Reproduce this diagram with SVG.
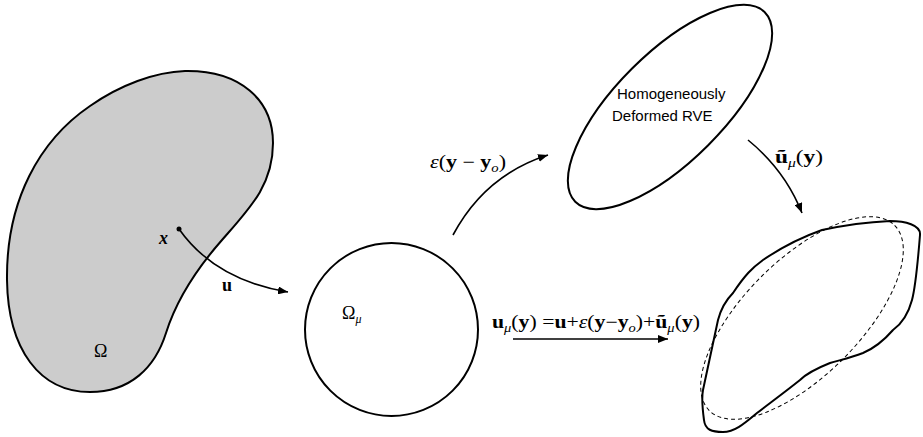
<svg xmlns="http://www.w3.org/2000/svg" width="923" height="437" viewBox="0 0 923 437">
<style>
.shape{fill:none;stroke:#000;stroke-width:2}
.conn{fill:none;stroke:#000;stroke-width:1.6}
.math{font-family:"Liberation Serif","DejaVu Serif",serif;font-size:18px;fill:#000}
.b{font-weight:bold}
.sub{font-size:12px}
.sans{font-family:"Liberation Sans",Arial,sans-serif;font-size:15px;fill:#000}
</style>
<defs>
<marker id="ah" viewBox="0 0 10 8" refX="10" refY="4" markerWidth="10" markerHeight="8" markerUnits="userSpaceOnUse" orient="auto">
<path d="M0,0 L10,4 L0,8 Z" fill="#000"/>
</marker>
</defs>
<g id="omega">
<path d="M185,71 C240,70 273,100 273,143 C273,185 250,208 222,240 C200,265 178,295 166,333 C155,368 130,392 90,392 C40,392 8,350 7,280 C6,200 40,140 90,106 C120,85 155,72 185,71 Z" fill="#cccccc" stroke="#000" stroke-width="2"/>
<text class="math" x="94" y="357">Ω</text>
<circle cx="179" cy="229" r="2.5" fill="#000"/>
<text class="math b" x="159" y="244" font-style="italic">x</text>
</g>
<g id="rve">
<circle class="shape" cx="391.5" cy="329.5" r="86.5"/>
<text class="math" x="342" y="319">Ω<tspan class="sub" dy="4" font-style="italic">μ</tspan></text>
</g>
<g id="homog">
<ellipse class="shape" cx="670" cy="107" rx="134" ry="54" transform="rotate(-45 670 107)"/>
<text class="sans" x="617" y="99">Homogeneously</text>
<text class="sans" x="612" y="121">Deformed RVE</text>
</g>
<g id="deformed">
<ellipse cx="802" cy="318" rx="131" ry="58" transform="rotate(-45 802 318)" fill="none" stroke="#000" stroke-width="1" stroke-dasharray="4,3"/>
<path class="shape" d="M822,230 C850,224 870,222 890,221 C905,221 921,225 920,235 C918,260 916,285 912,300 C908,315 900,325 893,330 C880,345 870,350 863,353 C850,358 840,360 830,363 C815,369 805,375 800,380 C785,392 770,403 757,413 C745,423 735,432 723,432 C712,432 705,430 704,420 C702,405 702,395 703,390 L718,320 C722,305 728,298 733,293 C745,275 752,268 763,260 C785,245 805,236 822,230 Z"/>
</g>
<g id="connectors">
<path class="conn" d="M179,229 Q215,280 288,292" marker-end="url(#ah)"/>
<path class="conn" d="M453,235 Q485,175 548,155" marker-end="url(#ah)"/>
<path class="conn" d="M748,140 Q785,170 802,213" marker-end="url(#ah)"/>
<path class="conn" d="M513,339 L668,339" marker-end="url(#ah)"/>
</g>
<g id="labels">
<text class="math b" x="222" y="291">u</text>
<text class="math" x="430" y="168" textLength="76" lengthAdjust="spacingAndGlyphs"><tspan font-style="italic">ε</tspan>(<tspan class="b">y</tspan> − <tspan class="b">y</tspan><tspan class="sub" dy="4" font-style="italic">o</tspan><tspan dy="-4">)</tspan></text>
<text class="math" x="775" y="163" textLength="48" lengthAdjust="spacingAndGlyphs"><tspan class="b">ũ</tspan><tspan class="sub" dy="4" font-style="italic">μ</tspan><tspan dy="-4">(</tspan><tspan class="b">y</tspan>)</text>
<text class="math" x="492" y="328" textLength="208" lengthAdjust="spacingAndGlyphs"><tspan class="b">u</tspan><tspan class="sub" dy="4" font-style="italic">μ</tspan><tspan dy="-4">(</tspan><tspan class="b">y</tspan>) =<tspan class="b">u</tspan>+<tspan font-style="italic">ε</tspan>(<tspan class="b">y</tspan>−<tspan class="b">y</tspan><tspan class="sub" dy="4" font-style="italic">o</tspan><tspan dy="-4">)+</tspan><tspan class="b">ũ</tspan><tspan class="sub" dy="4" font-style="italic">μ</tspan><tspan dy="-4">(</tspan><tspan class="b">y</tspan>)</text>
</g>
</svg>
